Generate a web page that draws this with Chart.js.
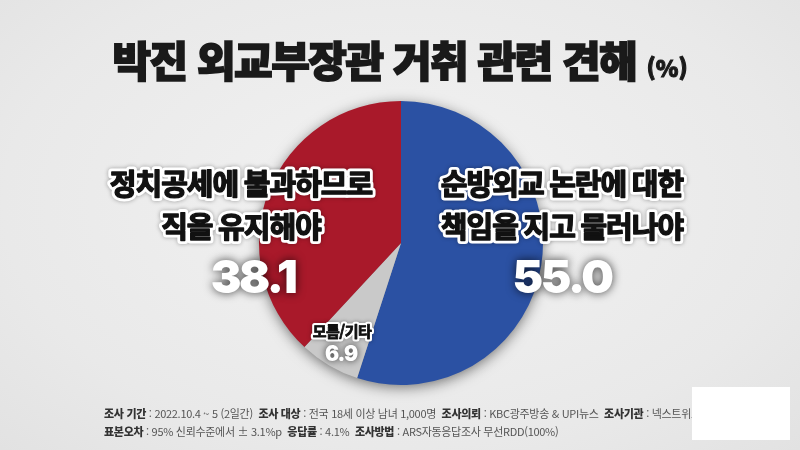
<!DOCTYPE html>
<html lang="ko">
<head>
<meta charset="utf-8">
<script src="https://cdn.jsdelivr.net/npm/chart.js@4.4.0/dist/chart.umd.min.js"></script>
<style>
  body { margin: 0; background: #ebebeb; }
  #wrap { position: relative; width: 800px; height: 450px; overflow: hidden;
    background: radial-gradient(ellipse at 50% 45%, #f2f2f2 0%, #e9e9e9 70%, #e2e2e2 100%); }
  #myChart { position: absolute; left: 0; top: 0; }
  #title { position: absolute; left: 0; top: 28px; width: 800px; text-align: center;
    font-family: "Noto Sans CJK KR", sans-serif; font-weight: 900; font-size: 42px;
    color: #1a1a1a; letter-spacing: -1.5px; -webkit-text-stroke: 1.6px #1a1a1a; }
  #title small { font-size: 23px; letter-spacing: 0; -webkit-text-stroke: 1px #1a1a1a; }
  #footer { position: absolute; left: 104px; top: 404px; width: 700px;
    font-family: "Noto Sans CJK KR", sans-serif; font-size: 11px; color: #555;
    line-height: 18px; white-space: nowrap; letter-spacing: -0.3px; }
  #footer b { color: #333; font-weight: 900; }
  #blank { position: absolute; left: 692px; top: 387px; width: 98px; height: 53px; background: #fff; }
</style>
</head>
<body>
<div id="wrap">
  <canvas id="myChart" width="800" height="450"></canvas>
  <div id="title">박진 외교부장관 거취 관련 견해 <small>(%)</small></div>
  <div id="footer">
    <div><b>조사 기간</b> : 2022.10.4 ~ 5 (2일간) &nbsp;<b>조사 대상</b> : 전국 18세 이상 남녀 1,000명 &nbsp;<b>조사의뢰</b> : KBC광주방송 &amp; UPI뉴스 &nbsp;<b>조사기관</b> : 넥스트위크리서치</div>
    <div><b>표본오차</b> : 95% 신뢰수준에서 ± 3.1%p &nbsp;<b>응답률</b> : 4.1% &nbsp;<b>조사방법</b> : ARS자동응답조사 무선RDD(100%)</div>
  </div>
  <div id="blank"></div>
</div>
<script>
// 데이터
const categorias = ["순방외교 논란에 대한 책임을 지고 물러나야", "모름/기타", "정치공세에 불과하므로 직을 유지해야"];
const valores = [55.0, 6.9, 38.1];
const colores = ["#2b51a3", "#c9c9c9", "#a9192a"];

// 라벨 위치 (name lines + value)
const lineasNombre = [["순방외교 논란에 대한", "책임을 지고 물러나야"], ["모름/기타"], ["정치공세에 불과하므로", "직을 유지해야"]];
const posNombre = [[562, 184], [342, 331], [241, 184]];
const posValor = [[562, 279], [341, 355], [253, 279]];

// Sombra detras del pie
const sombraPie = {
  id: "sombraPie",
  beforeDatasetsDraw(chart) {
    const arc = chart.getDatasetMeta(0).data[0];
    if (!arc) return;
    const ctx = chart.ctx;
    ctx.save();
    ctx.shadowColor = "rgba(0,0,0,0.55)";
    ctx.shadowBlur = 14;
    ctx.shadowOffsetY = 3;
    ctx.fillStyle = "#888";
    ctx.beginPath();
    ctx.arc(arc.x, arc.y, arc.outerRadius - 1, 0, Math.PI * 2);
    ctx.fill();
    ctx.restore();
  }
};

// Etiquetas
const etiquetas = {
  id: "etiquetas",
  afterDraw(chart) {
    const ctx = chart.ctx;
    ctx.save();
    ctx.textAlign = "center";
    ctx.textBaseline = "middle";
    valores.forEach((v, i) => {
      const grande = i !== 1;
      ctx.font = grande ? 'bold 29px "Noto Sans CJK KR"' : 'bold 15px "Noto Sans CJK KR"';
      ctx.letterSpacing = grande ? "-1px" : "-0.5px";
      ctx.lineJoin = "round";
      const lh = 43;
      lineasNombre[i].forEach((t, k) => {
        const [x, y] = posNombre[i];
        ctx.shadowColor = "rgba(0,0,0,0.35)";
        ctx.shadowBlur = 4;
        ctx.strokeStyle = "#fff";
        ctx.lineWidth = grande ? 7 : 5;
        ctx.strokeText(t, x, y + k * lh);
        ctx.shadowBlur = 0;
        ctx.strokeStyle = "#111";
        ctx.lineWidth = grande ? 1.4 : 0.8;
        ctx.strokeText(t, x, y + k * lh);
        ctx.fillStyle = "#111";
        ctx.fillText(t, x, y + k * lh);
      });
      ctx.font = grande ? '900 46px Inter' : '900 21px Inter';
      ctx.letterSpacing = grande ? "-2.5px" : "-1px";
      ctx.fillStyle = "#fff";
      ctx.shadowColor = "rgba(0,0,0,0.75)";
      ctx.shadowBlur = grande ? 10 : 7;
      ctx.fillText(v.toFixed(1), posValor[i][0], posValor[i][1]);
      ctx.letterSpacing = "0px";
      ctx.shadowBlur = 0;
    });
    ctx.restore();
  }
};

const config = {
  type: "pie",
  data: {
    labels: categorias,
    datasets: [{
      data: valores,
      backgroundColor: colores,
      borderWidth: 0
    }]
  },
  options: {
    responsive: false,
    animation: false,
    layout: { padding: { top: 101, bottom: 65, left: 2, right: 0 } },
    plugins: { legend: { display: false }, tooltip: { enabled: false } }
  },
  plugins: [sombraPie, etiquetas]
};

new Chart(document.getElementById("myChart").getContext("2d"), config);
</script>
</body>
</html>
